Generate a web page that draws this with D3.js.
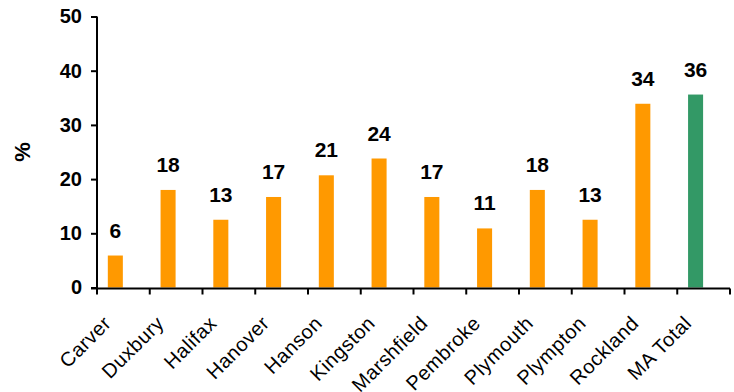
<!DOCTYPE html>
<html>
<head>
<meta charset="utf-8">
<script src="https://cdn.jsdelivr.net/npm/d3@7"></script>
<style>
  body { margin: 0; background: #fff; }
  svg { display: block; }
  text { font-family: "Liberation Sans", Arial, sans-serif; }
</style>
</head>
<body>
<svg id="chart" width="734" height="392"></svg>
<script>
const categories = ["Carver", "Duxbury", "Halifax", "Hanover", "Hanson", "Kingston", "Marshfield", "Pembroke", "Plymouth", "Plympton", "Rockland", "MA Total"];
const values = [5.9, 18.0, 12.5, 16.7, 20.7, 23.8, 16.7, 10.9, 18.0, 12.5, 33.9, 35.6];
const labels = ["6", "18", "13", "17", "21", "24", "17", "11", "18", "13", "34", "36"];
const yTicks = [0, 10, 20, 30, 40, 50];
const highlight = "MA Total";

const svg = d3.select("#chart");
const mLeft = 97, mRight = 730, mTop = 16.5, mBottom = 287.5;

const x = d3.scaleBand().domain(categories).range([mLeft, mRight]).padding(0);
const y = d3.scaleLinear().domain([0, 50]).range([mBottom, mTop]);
const bw = x.bandwidth();

// bars
svg.append("g").selectAll("rect").data(categories).join("rect")
  .attr("x", d => x(d) + bw * 0.205)
  .attr("width", bw * 0.285)
  .attr("y", (d, i) => y(values[i]))
  .attr("height", (d, i) => y(0) - y(values[i]))
  .attr("fill", d => d === highlight ? "#339966" : "#FF9900");

// value labels
svg.append("g").selectAll("text").data(categories).join("text")
  .attr("x", d => x(d) + bw * 0.205 + bw * 0.1425)
  .attr("y", (d, i) => y(values[i]) - 18)
  .attr("text-anchor", "middle")
  .attr("font-size", 21)
  .attr("font-weight", "bold")
  .attr("fill", "#000")
  .text((d, i) => labels[i]);

// y axis
const yAxis = svg.append("g")
  .attr("transform", `translate(${mLeft},0)`)
  .call(d3.axisLeft(y).tickValues(yTicks).tickSize(6).tickPadding(9).tickFormat(d3.format("d")));
yAxis.select(".domain").attr("stroke", "#000").attr("stroke-width", 2).attr("d", `M0,${mTop}V${mBottom + 1}`);
yAxis.selectAll(".tick line").attr("stroke", "#000").attr("stroke-width", 2);
yAxis.selectAll(".tick text")
  .attr("font-size", 20).attr("font-weight", "bold").attr("fill", "#000")
  .attr("font-family", "Liberation Sans, Arial, sans-serif");

// x axis line + ticks at band boundaries
const gx = svg.append("g");
gx.append("line").attr("x1", mLeft - 6).attr("x2", mRight).attr("y1", mBottom + 1).attr("y2", mBottom + 1)
  .attr("stroke", "#000").attr("stroke-width", 2);
const bounds = categories.map(d => x(d)).concat([mRight]);
gx.selectAll("line.t").data(bounds).join("line").attr("class", "t")
  .attr("x1", d => d).attr("x2", d => d)
  .attr("y1", mBottom + 1).attr("y2", mBottom + 7)
  .attr("stroke", "#000").attr("stroke-width", 2);

// category labels
gx.selectAll("text").data(categories).join("text")
  .attr("transform", d => `translate(${x(d) + bw / 2 - 11},${mBottom + 37}) rotate(-45)`)
  .attr("text-anchor", "end")
  .attr("font-size", 20)
  .attr("letter-spacing", 0.5)
  .attr("fill", "#000")
  .text(d => d);

// y title
svg.append("text")
  .attr("transform", `translate(30,${(mTop + mBottom) / 2}) rotate(-90)`)
  .attr("text-anchor", "middle")
  .attr("font-size", 22)
  .attr("font-weight", "bold")
  .attr("fill", "#000")
  .text("%");
</script>
</body>
</html>
